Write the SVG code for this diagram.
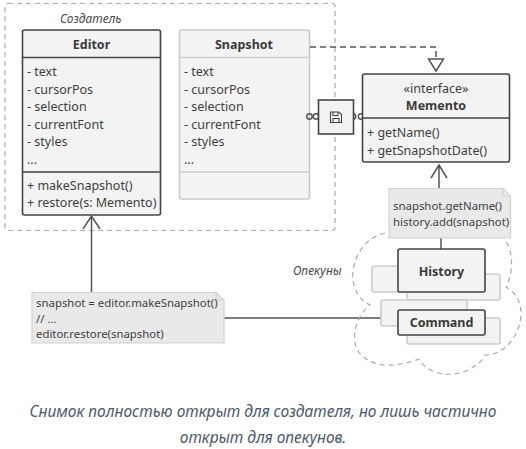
<svg xmlns="http://www.w3.org/2000/svg" width="526" height="449" viewBox="0 0 526 449">
<style>
text{font-family:"Noto Sans","Open Sans",sans-serif;fill:#3f3f3f;font-size:12.5px}
.b{font-weight:700;text-anchor:middle;fill:#3a3a3a}
.n{font-size:11.4px}
.i{font-style:italic;fill:#4a4a4a;font-size:12px}
.cap{font-style:italic;font-size:15.5px;fill:#4d5a6b;text-anchor:middle}
.dash{fill:none;stroke:#aaa;stroke-width:1.2;stroke-dasharray:5 4}
.box{fill:#f3f3f3;stroke:#444;stroke-width:1.6}
.light{fill:#f3f3f3;stroke:#ccc;stroke-width:1.6}
.ln{stroke:#444;stroke-width:1.6;fill:none}
.lln{stroke:#ccc;stroke-width:1.6;fill:none}
.con{stroke:#555;stroke-width:1.5;fill:none}
.note{fill:#e9e9e9;stroke:#d2d2d2;stroke-width:1.2}
</style>
<rect width="526" height="449" fill="#fff"/>
<g id="originator-frame"><rect class="dash" x="5" y="3.500" width="330" height="227" rx="3"/><text class="i" x="60" y="23">Создатель</text></g>
<g id="editor">
<rect class="box" x="22.500" y="30" width="138" height="185" rx="2"/>
<path class="ln" d="M22.500 57.500H160.500M22.500 172H160.500"/>
<text class="b" x="91.500" y="49">Editor</text>
<text x="27" y="76">- text</text><text x="27" y="94">- cursorPos</text><text x="27" y="111">- selection</text><text x="27" y="129">- currentFont</text><text x="27" y="146">- styles</text><text x="27" y="164">...</text>
<text x="27" y="190">+ makeSnapshot()</text><text x="27" y="207">+ restore(s: Memento)</text>
</g>
<g id="snapshot">
<rect class="light" x="179.500" y="30" width="130" height="169" rx="2"/>
<path class="lln" d="M179.500 57.500H309.500M179.500 172H309.500"/>
<text class="b" x="244" y="49">Snapshot</text>
<text x="184" y="76">- text</text><text x="184" y="94">- cursorPos</text><text x="184" y="111">- selection</text><text x="184" y="129">- currentFont</text><text x="184" y="146">- styles</text><text x="184" y="164">...</text>
</g>
<g id="connectors">
<path class="con" stroke-dasharray="6 4" d="M310 47H436V59"/>
<path d="M428.500 59H443.500L436 71Z" fill="#fff" stroke="#555" stroke-width="1.500"/>
<path class="con" d="M91.500 292V217M83 229L91.500 216L100 229"/>
<path class="con" d="M439 188V165M431 178L439 165L447 178"/>
<path class="con" d="M224 318H398M441 238V249"/>
<circle class="con" cx="309.500" cy="116.500" r="2.700"/><circle class="con" cx="316" cy="116.500" r="2.700"/>
<circle class="con" cx="353" cy="116.500" r="2.700"/><circle class="con" cx="361" cy="116.500" r="2.700"/>
</g>
<g id="memento-icon">
<rect x="318.500" y="100" width="35" height="34" fill="#f3f3f3" stroke="#444" stroke-width="1.600"/>
<path d="M330.500 112H339L341.500 114.500V122.500H330.500ZM333 112V115.500H338V112M333 122.500V118.500H339V122.500" fill="none" stroke="#444" stroke-width="1.100"/>
</g>
<g id="memento">
<rect class="box" x="362.500" y="74" width="147" height="88" rx="2"/>
<path class="ln" d="M362.500 118H509.500"/>
<text x="436" y="92.500" text-anchor="middle">«interface»</text>
<text class="b" x="436" y="110">Memento</text>
<text x="367" y="137">+ getName()</text><text x="367" y="155">+ getSnapshotDate()</text>
</g>
<g id="caretakers-cloud">
<path class="dash" d="M385 233C362 238 351 262 353 280C355 295 362 301 370 305C356 316 352 335 356 347C362 362 382 368 400 364C412 362 416 360 419 359C428 375 452 378 468 370C478 365 483 360 485 355C505 355 520 335 521 315C521 300 515 292 506 287C514 272 513 250 505 240"/>
<text class="i" x="293" y="275">Опекуны</text>
</g>
<g id="history-back"><rect class="light" x="372" y="266" width="86" height="26" rx="2"/><rect class="light" x="407" y="274" width="93" height="26" rx="2"/></g>
<g id="history"><rect class="box" x="398" y="249" width="87" height="43" rx="2"/><text class="b" x="441.500" y="276">History</text></g>
<g id="command-back"><rect class="light" x="381" y="300" width="86" height="26" rx="2"/><rect class="light" x="407" y="318" width="93" height="26" rx="2"/></g>
<g id="command"><rect class="box" x="398" y="310" width="87" height="25" rx="2"/><text class="b" x="441.500" y="327">Command</text></g>
<g id="note-history">
<path class="note" d="M389 188.500H503L510.500 196V238H389Z"/><path d="M503 188.500V196H510.500" fill="none" stroke="#d2d2d2" stroke-width="1.200"/>
<text class="n" x="393" y="210">snapshot.getName()</text><text class="n" x="393" y="226">history.add(snapshot)</text>
</g>
<g id="note-editor">
<path class="note" d="M32 292.500H216L224 300V343H32Z"/><path d="M216 292.500V300H224" fill="none" stroke="#d2d2d2" stroke-width="1.200"/>
<text class="n" x="36" y="307">snapshot = editor.makeSnapshot()</text><text class="n" x="36" y="323">// ...</text><text class="n" x="36" y="338">editor.restore(snapshot)</text>
</g>
<g id="caption">
<text class="cap" x="263" y="417">Снимок полностью открыт для создателя, но лишь частично</text>
<text class="cap" x="263" y="443">открыт для опекунов.</text>
</g>
</svg>
